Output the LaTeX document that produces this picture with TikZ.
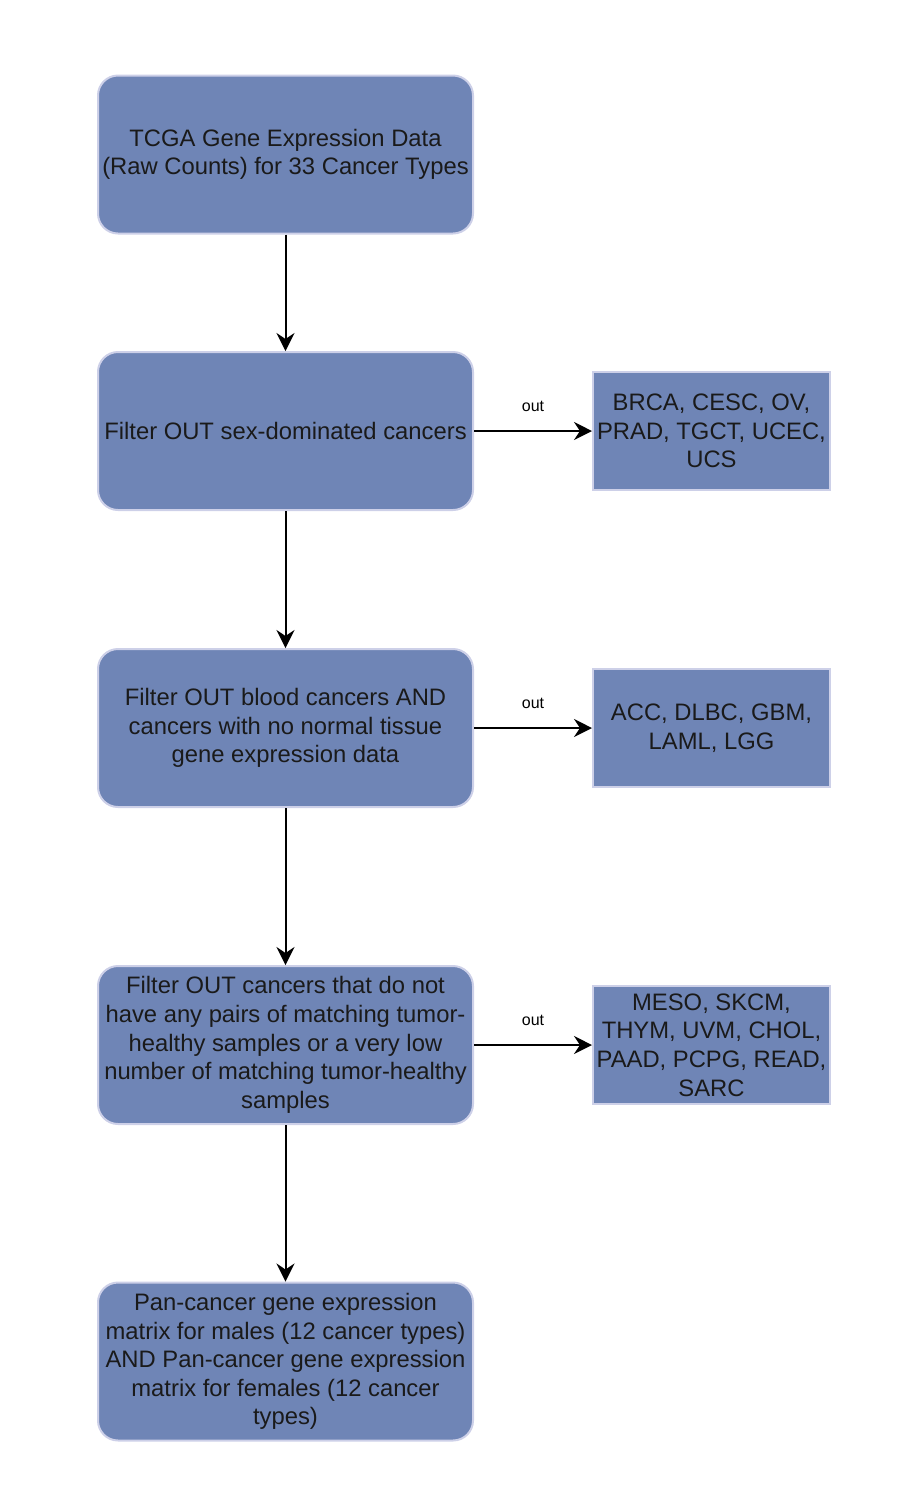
\documentclass[tikz,border=0pt]{standalone}
\usepackage{fontspec}
\setmainfont{Liberation Sans}
\usetikzlibrary{arrows.meta}
\definecolor{boxfill}{HTML}{6F85B6}
\definecolor{boxline}{HTML}{CDD0E8}
\definecolor{inktext}{HTML}{1A1A1A}
\begin{document}
\begin{tikzpicture}[x=0.5pt,y=-0.5pt,
	stepbox/.style={draw=boxline,line width=1pt,fill=boxfill,rounded corners=10pt,minimum width=187.5pt,minimum height=79pt,align=center,text=inktext,font=\fontsize{11.9}{14.3}\selectfont,inner sep=1pt},
	outbox/.style={draw=boxline,line width=1pt,fill=boxfill,minimum width=118.5pt,minimum height=59pt,align=center,text=inktext,font=\fontsize{11.9}{14.3}\selectfont,inner sep=1pt},
	flow/.style={-{Stealth[length=9pt,width=9pt,inset=3pt]},line width=1pt}]
	\useasboundingbox (0,0) rectangle (912,1496);
	
	\node[stepbox] (raw) at (285.5,154.5) {TCGA Gene Expression Data\\(Raw Counts) for 33 Cancer Types};
	\node[stepbox] (sex) at (285.5,431) {Filter OUT sex-dominated cancers};
	\node[stepbox] (blood) at (285.5,728) {Filter OUT blood cancers AND\\cancers with no normal tissue\\gene expression data};
	\node[stepbox] (pairs) at (285.5,1045) {Filter OUT cancers that do not\\have any pairs of matching tumor-\\healthy samples or a very low\\number of matching tumor-healthy\\samples};
	\node[stepbox] (pan) at (285.5,1361.5) {Pan-cancer gene expression\\matrix for males (12 cancer types)\\AND Pan-cancer gene expression\\matrix for females (12 cancer\\types)};
	
	\node[outbox] (outsex) at (711.5,431) {BRCA, CESC, OV,\\PRAD, TGCT, UCEC,\\UCS};
	\node[outbox] (outblood) at (711.5,728) {ACC, DLBC, GBM,\\LAML, LGG};
	\node[outbox] (outpairs) at (711.5,1045) {MESO, SKCM,\\THYM, UVM, CHOL,\\PAAD, PCPG, READ,\\SARC};
	
	\draw[flow] (raw) -- (sex);
	\draw[flow] (sex) -- (blood);
	\draw[flow] (blood) -- (pairs);
	\draw[flow] (pairs) -- (pan);
	
	\draw[flow] (sex) -- node[above=6pt,font=\fontsize{8}{9}\selectfont] {out} (outsex);
	\draw[flow] (blood) -- node[above=6pt,font=\fontsize{8}{9}\selectfont] {out} (outblood);
	\draw[flow] (pairs) -- node[above=6pt,font=\fontsize{8}{9}\selectfont] {out} (outpairs);
\end{tikzpicture}
\end{document}
